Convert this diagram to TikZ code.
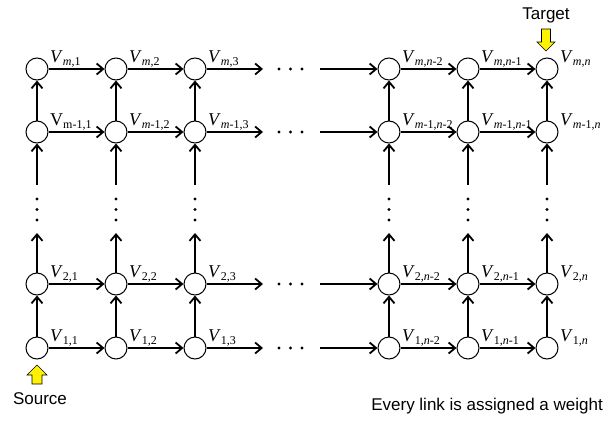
\documentclass[tikz,border=0pt]{standalone}
\usepackage{fontspec}
\setmainfont{Liberation Serif}
\newfontfamily\arialf{Liberation Sans}
\usetikzlibrary{arrows.meta}
\newcommand\VL[2]{#1\raisebox{-3pt}{\fontsize{12}{12}\selectfont #2}}
\begin{document}
\begin{tikzpicture}[x=1pt,y=-1pt,
 vert/.style={circle,draw,line width=1pt,minimum size=22pt,inner sep=0pt},
 edge/.style={line width=1.8pt,-{Straight Barb[length=6.5pt,width=11pt]}},
 dotnode/.style={circle,fill,inner sep=0pt,minimum size=3.2pt},
 lbl/.style={anchor=base west,inner sep=0pt,font=\fontsize{18}{18}\selectfont},
 sans/.style={inner sep=0pt,font=\arialf\fontsize{17}{17}\selectfont},
 yarrow/.style={fill=yellow,draw=black,line width=0.6pt}]
\useasboundingbox (0,0) rectangle (604,423);
% nodes
\foreach \r/\y in {1/348,2/284,a/132,b/69}{
  \foreach \c/\x in {1/37,2/116,3/195,4/389,5/468,6/547}{
    \node[vert] (v\r\c) at (\x,\y) {};
  }
}
% labels
\foreach \c/\s in {1/1,2/2,3/3,4/{\textit{n}-2},5/{\textit{n}-1},6/\textit{n}}{
  \node[lbl] (lb\c) at ([xshift=13pt,yshift=7pt]vb\c.center) {\VL{\textit{V}}{\textit{m},\s}};
  \node[lbl] (l2\c) at ([xshift=13pt,yshift=7pt]v2\c.center) {\VL{\textit{V}}{2,\s}};
  \node[lbl] (l1\c) at ([xshift=13pt,yshift=7pt]v1\c.center) {\VL{\textit{V}}{1,\s}};
}
\node[lbl] (la1) at ([xshift=13pt,yshift=7pt]va1.center) {\VL{V}{m-1,1}};
\foreach \c/\s in {2/2,3/3,4/{\textit{n}-2},5/{\textit{n}-1},6/\textit{n}}{
  \node[lbl] (la\c) at ([xshift=13pt,yshift=7pt]va\c.center) {\VL{\textit{V}}{\textit{m}-1,\s}};
}
% horizontal edges
\foreach \r/\y in {1/348,2/284,a/132,b/69}{
  \coordinate (e\r) at (263,\y);
  \coordinate (s\r) at (320,\y);
  \draw[edge] (v\r1) -- (v\r2);
  \draw[edge] (v\r2) -- (v\r3);
  \draw[edge] (v\r3) -- (e\r);
  \draw[edge] (s\r) -- (v\r4);
  \draw[edge] (v\r4) -- (v\r5);
  \draw[edge] (v\r5) -- (v\r6);
  \node[dotnode] (ha\r) at (279,\y) {};
  \node[dotnode] (hb\r) at (290.5,\y) {};
  \node[dotnode] (hc\r) at (302,\y) {};
}
% vertical edges
\foreach \c/\x in {1/37,2/116,3/195,4/389,5/468,6/547}{
  \coordinate (u\c) at (\x,233);
  \coordinate (d\c) at (\x,185);
  \draw[edge] (v1\c) -- (v2\c);
  \draw[edge] (v2\c) -- (u\c);
  \draw[edge] (d\c) -- (va\c);
  \draw[edge] (va\c) -- (vb\c);
  \node[dotnode] (va\c x) at (\x,199) {};
  \node[dotnode] (vb\c x) at (\x,209.5) {};
  \node[dotnode] (vc\c x) at (\x,220) {};
}
% yellow arrows
\draw[yarrow] (541.5,29) -- (550.5,29) -- (550.5,42) -- (555,42) -- (546,51) -- (537,42) -- (541.5,42) -- cycle;
\draw[yarrow] (32,384) -- (42,384) -- (42,375) -- (47,375) -- (37,365) -- (27,375) -- (32,375) -- cycle;
% texts
\node[sans,anchor=base] (target) at (546,19) {Target};
\node[sans,anchor=base] (source) at (40,404) {Source};
\node[sans,anchor=base east] (note) at (603,410) {Every link is assigned a weight};
\end{tikzpicture}
\end{document}
